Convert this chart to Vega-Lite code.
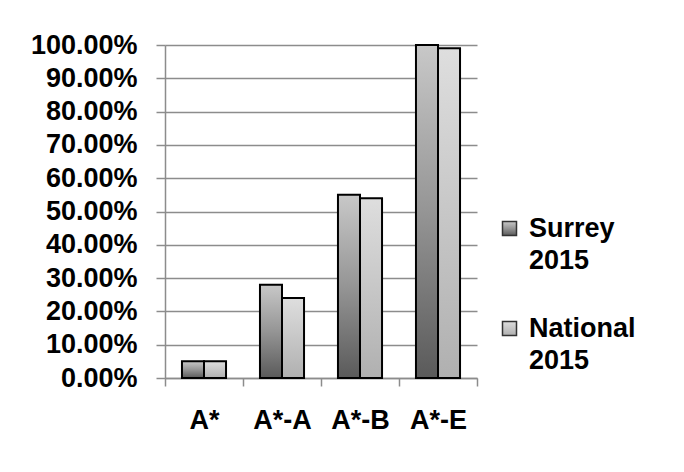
{
  "$schema": "https://vega.github.io/schema/vega-lite/v6.json",
  "width": 312,
  "height": 333,
  "autosize": {"type": "none"},
  "padding": {"left": 165, "top": 45, "right": 207, "bottom": 94},
  "background": "white",
  "config": {
    "view": {"stroke": null},
    "font": "Liberation Sans",
    "style": {"guide-label": {"lineHeight": 32}}
  },
  "data": {
    "values": [
      {"grade": "A*", "series": "Surrey 2015", "value": 0.05},
      {"grade": "A*", "series": "National 2015", "value": 0.05},
      {"grade": "A*-A", "series": "Surrey 2015", "value": 0.28},
      {"grade": "A*-A", "series": "National 2015", "value": 0.24},
      {"grade": "A*-B", "series": "Surrey 2015", "value": 0.55},
      {"grade": "A*-B", "series": "National 2015", "value": 0.54},
      {"grade": "A*-E", "series": "Surrey 2015", "value": 1.0},
      {"grade": "A*-E", "series": "National 2015", "value": 0.99}
    ]
  },
  "mark": {"type": "bar", "stroke": "black", "strokeWidth": 2},
  "encoding": {
    "x": {
      "field": "grade",
      "type": "nominal",
      "sort": ["A*", "A*-A", "A*-B", "A*-E"],
      "scale": {"paddingInner": 0, "paddingOuter": 0},
      "axis": {
        "title": null,
        "tickBand": "extent",
        "labelAngle": 0,
        "labelFontSize": 27,
        "labelFontWeight": "bold",
        "labelColor": "black",
        "labelPadding": 21,
        "tickSize": 8,
        "tickColor": "#8c8c8c",
        "tickWidth": 1.5,
        "domainColor": "#8c8c8c",
        "domainWidth": 1.5,
        "grid": false
      }
    },
    "xOffset": {
      "field": "series",
      "type": "nominal",
      "sort": ["Surrey 2015", "National 2015"],
      "scale": {"paddingInner": 0, "paddingOuter": 0.77}
    },
    "y": {
      "field": "value",
      "type": "quantitative",
      "scale": {"domain": [0, 1], "nice": false},
      "axis": {
        "title": null,
        "format": ".2%",
        "values": [0, 0.1, 0.2, 0.3, 0.4, 0.5, 0.6, 0.7, 0.8, 0.9, 1.0],
        "labelFontSize": 27,
        "labelFontWeight": "bold",
        "labelColor": "black",
        "labelPadding": 19,
        "tickSize": 9,
        "tickColor": "#8c8c8c",
        "tickWidth": 1.5,
        "domainColor": "#8c8c8c",
        "domainWidth": 1.5,
        "gridColor": "#8c8c8c",
        "gridWidth": 1.5
      }
    },
    "fill": {
      "field": "series",
      "type": "nominal",
      "sort": ["Surrey 2015", "National 2015"],
      "scale": {
        "domain": ["Surrey 2015", "National 2015"],
        "range": [
          {"expr": "({gradient: 'linear', x1: 0, y1: 1, x2: 0, y2: 0, stops: [{offset: 0, color: '#5a5a5a'}, {offset: 0.5, color: '#959595'}, {offset: 1, color: '#c8c8c8'}]})"},
          {"expr": "({gradient: 'linear', x1: 0, y1: 1, x2: 0, y2: 0, stops: [{offset: 0, color: '#b0b0b0'}, {offset: 1, color: '#dedede'}]})"}
        ]
      },
      "legend": {
        "title": null,
        "orient": "none",
        "legendX": 331,
        "legendY": 170,
        "labelExpr": "split(datum.label, ' ')",
        "labelFontSize": 27,
        "labelFontWeight": "bold",
        "labelColor": "black",
        "symbolType": "square",
        "symbolSize": 196,
        "symbolStrokeColor": "#333333",
        "symbolStrokeWidth": 1.5,
        "rowPadding": 40,
        "labelOffset": 6
      }
    }
  }
}
